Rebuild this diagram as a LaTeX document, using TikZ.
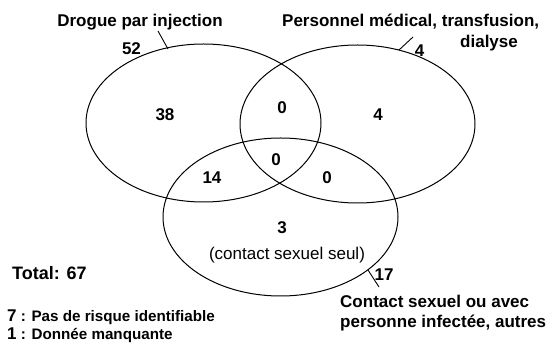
\documentclass[tikz,border=0pt]{standalone}
\usepackage{fontspec}
\setmainfont{Liberation Sans}
\usetikzlibrary{shapes.geometric}
\begin{document}
\begin{tikzpicture}[x=1pt,y=-1pt,
  set/.style={draw,ellipse,line width=1pt,minimum width=235pt,minimum height=158pt,inner sep=0pt},
  lab/.style={inner sep=0pt,font=\fontsize{17}{20}\selectfont\bfseries},
  num/.style={inner sep=0pt,anchor=base,font=\fontsize{17}{20}\selectfont\bfseries},
  note/.style={inner sep=0pt,anchor=base west,font=\fontsize{15.2}{17}\selectfont\bfseries},
  leader/.style={line width=0.9pt}]
\useasboundingbox (0,0) rectangle (549,347);
% sets
\node[set] (A) at (203.5,123) {};
\node[set] (B) at (357.5,124) {};
\node[set] (C) at (280.5,217) {};
% set labels
\node[lab,anchor=base] (labA) at (140,27) {Drogue par injection};
\node[lab,anchor=base west,align=left] (labB) at (282,48) {Personnel médical, transfusion,\\[1pt]\hspace*{178pt}dialyse};
\node[lab,anchor=base west,align=left] (labC) at (340,327) {Contact sexuel ou avec\\personne infectée, autres};
% totals per set
\node[num] (nA) at (131.5,55) {52};
\node[num] (nB) at (419.5,57) {4};
\node[num] (nC) at (384,281) {17};
% leaders
\coordinate (a1) at (158,31); \coordinate (a2) at (168,49);
\coordinate (b1) at (413,37); \coordinate (b2) at (399,50);
\coordinate (c1) at (368,270); \coordinate (c2) at (379,287);
\draw[leader] (a1) -- (a2);
\draw[leader] (b1) -- (b2);
\draw[leader] (c1) -- (c2);
% region counts
\node[num] (r38) at (165,121) {38};
\node[num] (rAB) at (282,114) {0};
\node[num] (rB) at (378,121) {4};
\node[num] (rABC) at (276,166) {0};
\node[num] (rAC) at (212,184) {14};
\node[num] (rBC) at (327,184) {0};
\node[num] (rC) at (282,234) {3};
\node[inner sep=0pt,anchor=base,font=\fontsize{17}{20}\selectfont] (rCt) at (287,260) {(contact sexuel seul)};
% notes
\node[inner sep=0pt,anchor=base west,font=\fontsize{18}{20}\selectfont\bfseries] (tot) at (12,280) {Total: 67};
\node[note] (n7) at (7,322) {{\fontsize{17}{17}\selectfont 7} : Pas de risque identifiable};
\node[note] (n1) at (7,340) {{\fontsize{17}{17}\selectfont 1} : Donnée manquante};
\end{tikzpicture}
\end{document}
